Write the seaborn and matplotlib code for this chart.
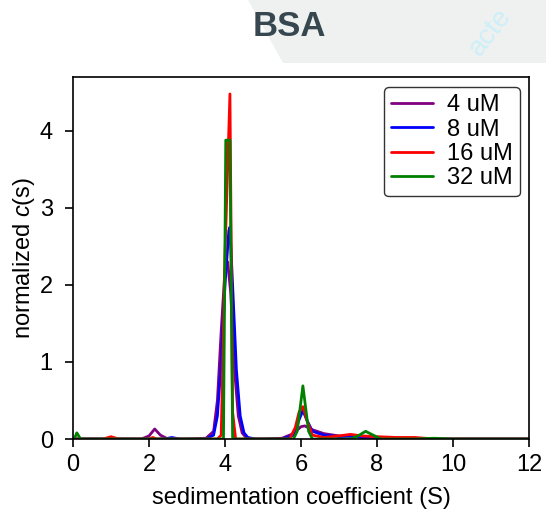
import numpy as np
import pandas as pd
import matplotlib
matplotlib.use("Agg")
import matplotlib.pyplot as plt
from matplotlib.patches import Polygon
import seaborn as sns

labels = ["4 uM", "8 uM", "16 uM", "32 uM"]
colors = ["#800080", "#0000ff", "#ff0000", "#008000"]

s_4 = [0, 1.8, 2.0, 2.15, 2.3, 2.5, 3.0, 3.5, 3.7, 3.8, 3.9, 4.0, 4.07, 4.15, 4.25, 4.35, 4.45, 4.55, 4.7, 5.0, 5.5, 5.8, 6.0, 6.1, 6.3, 6.6, 7.0, 7.5, 8.0, 9.0, 12]
c_4 = [0, 0, 0.04, 0.13, 0.05, 0, 0, 0.01, 0.1, 0.5, 1.4, 2.2, 2.3, 1.9, 0.9, 0.3, 0.08, 0.02, 0, 0, 0.01, 0.07, 0.16, 0.17, 0.12, 0.07, 0.04, 0.03, 0.01, 0, 0]

s_8 = [0, 2.4, 2.6, 2.8, 3.5, 3.7, 3.8, 3.9, 4.0, 4.1, 4.13, 4.2, 4.3, 4.4, 4.5, 4.6, 4.8, 5.5, 5.8, 5.95, 6.05, 6.15, 6.3, 6.6, 7.0, 7.3, 7.6, 8.0, 12]
c_8 = [0, 0, 0.02, 0, 0, 0.05, 0.3, 1.0, 2.0, 2.7, 2.75, 2.0, 0.9, 0.3, 0.08, 0.02, 0, 0, 0.05, 0.25, 0.37, 0.25, 0.1, 0.05, 0.03, 0.04, 0.02, 0, 0]

s_16 = [0, 0.8, 1.0, 1.2, 2.0, 2.1, 2.2, 3.8, 3.9, 4.0, 4.13, 4.2, 4.28, 5.7, 5.85, 5.95, 6.05, 6.15, 6.3, 6.6, 7.0, 7.3, 7.6, 8.0, 8.5, 9.0, 9.5, 12]
c_16 = [0, 0, 0.03, 0, 0, 0.02, 0, 0, 0.05, 2.4, 4.48, 0.35, 0, 0, 0.15, 0.35, 0.42, 0.25, 0.05, 0.02, 0.04, 0.06, 0.04, 0.03, 0.02, 0.02, 0, 0]

s_32 = [0, 0.05, 0.1, 0.2, 0.3, 3.9, 3.96, 4.02, 4.13, 4.2, 4.25, 5.8, 5.9, 6.05, 6.2, 6.3, 7.3, 7.5, 7.7, 7.9, 8.1, 9.0, 9.5, 10, 12]
c_32 = [0, 0.02, 0.08, 0.0, 0, 0, 0, 3.88, 3.88, 0.02, 0, 0, 0.1, 0.69, 0.1, 0, 0, 0.04, 0.1, 0.05, 0, 0, 0.01, 0, 0]

frames = []
for lab, s, c in zip(labels, [s_4, s_8, s_16, s_32], [c_4, c_8, c_16, c_32]):
    frames.append(pd.DataFrame({"s": s, "c": c, "conc": lab}))
df = pd.concat(frames, ignore_index=True)

sns.set_style("ticks")
plt.rcParams["font.family"] = ["Liberation Sans", "DejaVu Sans"]
plt.rcParams["mathtext.fontset"] = "custom"
plt.rcParams["mathtext.it"] = "Liberation Sans:italic"
plt.rcParams["mathtext.rm"] = "Liberation Sans"
plt.rcParams["text.color"] = "black"
plt.rcParams["axes.labelcolor"] = "black"
plt.rcParams["xtick.color"] = "black"
plt.rcParams["ytick.color"] = "black"

fig = plt.figure(figsize=(5.46, 5.09), dpi=100)

# watermark background
poly = Polygon([[248/546, 1.0], [1.0, 1.0], [1.0, 1 - 63/509], [283/546, 1 - 63/509]],
               closed=True, transform=fig.transFigure, facecolor="#eff1f0", edgecolor="none", zorder=0)
fig.patches.append(poly)
fig.text(490/546, 1 - 32/509, "acte", rotation=52, fontsize=20, color="#cdeff8",
         ha="center", va="center", zorder=1)

fig.text(289/546, 1 - 26/509, "BSA", fontsize=25, fontweight="bold", color="#37474f",
         ha="center", va="center")

ax = fig.add_axes([73/546, 70/509, (529-73)/546, (439-77)/509])
sns.lineplot(data=df, x="s", y="c", hue="conc", palette=colors, hue_order=labels,
             estimator=None, sort=True, linewidth=2, ax=ax)

ax.set_xlim(0, 12)
ax.set_ylim(0, 4.7)
ax.set_xticks(np.arange(0, 13, 2))
ax.set_yticks([0, 1, 2, 3, 4])
ax.tick_params(axis="both", labelsize=17, length=5.5, width=1.2, direction="out", color="black",
               labelcolor="black")
ax.tick_params(axis="x", pad=5)
ax.tick_params(axis="y", pad=9)
for sp in ax.spines.values():
    sp.set_color("black")
    sp.set_linewidth(1.2)
ax.set_xlabel("sedimentation coefficient (S)", fontsize=17, labelpad=8)
ax.set_ylabel("normalized $c$(s)", fontsize=17, labelpad=2)

leg = ax.legend(loc="upper right", fontsize=17, frameon=True, handlelength=1.75,
                labelspacing=0.1, borderpad=0.3, handletextpad=0.6, borderaxespad=0,
                bbox_to_anchor=(0.980, 0.972))
leg.get_frame().set_edgecolor("#333333")
leg.get_frame().set_linewidth(1.0)
leg.get_frame().set_alpha(1)
for l in leg.get_lines():
    l.set_linewidth(2)

fig.savefig("out.png", dpi=100)
